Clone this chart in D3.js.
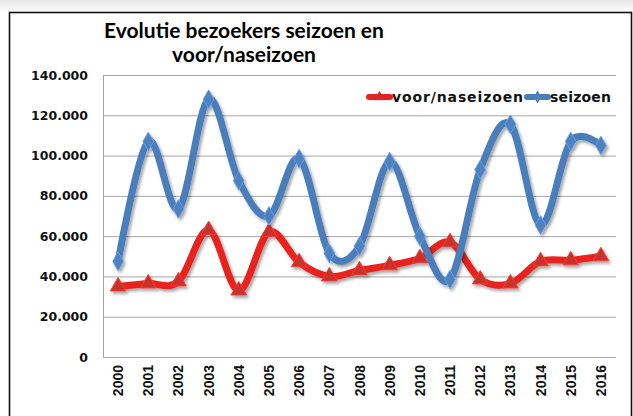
<!DOCTYPE html>
<html>
<head>
<meta charset="utf-8">
<script src="https://cdn.jsdelivr.net/npm/d3@7"></script>
<style>
  html, body { margin: 0; padding: 0; background: #fff; }
  svg { display: block; }
</style>
</head>
<body>
<div id="chart"></div>
<script>
// chart values
var years = ['2000','2001','2002','2003','2004','2005','2006','2007','2008',
             '2009','2010','2011','2012','2013','2014','2015','2016'];
var seizoen = [47500, 107000, 73500, 128000, 87500, 70000, 98500, 51500, 55000,
               97000, 60000, 38500, 93000, 115500, 65500, 107000, 105000];
var voorNaseizoen = [35000, 36500, 37500, 63000, 33000, 62000, 47000, 40000, 43000,
                     45500, 49000, 57000, 38500, 36500, 47500, 48000, 50000];
var yTicks = [0, 20000, 40000, 60000, 80000, 100000, 120000, 140000];
var titleLines = ['Evolutie bezoekers seizoen en', 'voor/naseizoen'];

var width = 633, height = 416;
var plot = {left: 103, right: 616, top: 75, bottom: 357};

var svg = d3.select('#chart').append('svg')
  .attr('width', width)
  .attr('height', height);

var defs = svg.append('defs');
// grey fade above the frame
var grad = defs.append('linearGradient').attr('id', 'topfade')
  .attr('x1', 0).attr('y1', 0).attr('x2', 0).attr('y2', 1);
grad.append('stop').attr('offset', '0%').attr('stop-color', '#e6e6e6');
grad.append('stop').attr('offset', '100%').attr('stop-color', '#fafafa');
// drop shadow under the lines
var shadow = defs.append('filter').attr('id', 'shadow')
  .attr('x', '-10%').attr('y', '-10%').attr('width', '120%').attr('height', '130%');
shadow.append('feDropShadow')
  .attr('dx', 2).attr('dy', 2.5).attr('stdDeviation', 1.6)
  .attr('flood-color', '#000').attr('flood-opacity', 0.35);

svg.append('rect').attr('x', 0).attr('y', 0).attr('width', width).attr('height', 11)
  .attr('fill', 'url(#topfade)');

// chart frame
svg.append('rect')
  .attr('x', 9.5).attr('y', 12.5)
  .attr('width', 622).attr('height', 420)
  .attr('fill', '#fff')
  .attr('stroke', '#111')
  .attr('stroke-width', 1.6);

var x = d3.scaleBand().domain(years).range([plot.left, plot.right]);
var y = d3.scaleLinear().domain([0, 140000]).range([plot.bottom, plot.top]);

// horizontal grid lines
svg.append('g')
  .selectAll('line')
  .data(yTicks)
  .enter().append('line')
    .attr('x1', plot.left).attr('x2', plot.right)
    .attr('y1', function(d) { return y(d) + 0.5; })
    .attr('y2', function(d) { return y(d) + 0.5; })
    .attr('stroke', '#a6a6a6')
    .attr('stroke-width', 1);

// y axis line
svg.append('line')
  .attr('x1', plot.left + 0.5).attr('x2', plot.left + 0.5)
  .attr('y1', plot.top).attr('y2', plot.bottom + 0.5)
  .attr('stroke', '#a6a6a6');

// y tick labels
var fmt = function(d) { return d === 0 ? '0' : d3.format(',')(d).replace(/,/g, '.'); };
svg.append('g')
  .selectAll('text')
  .data(yTicks)
  .enter().append('text')
    .attr('x', 88)
    .attr('y', function(d) { return y(d) + 4.5; })
    .attr('text-anchor', 'end')
    .style('font-family', 'DejaVu Sans, Verdana, sans-serif')
    .style('font-weight', 'bold')
    .style('font-size', '12.5px')
    .attr('fill', '#111')
    .text(fmt);

// x tick labels, rotated
svg.append('g')
  .selectAll('text')
  .data(years)
  .enter().append('text')
    .attr('transform', function(d) {
      return 'translate(' + (x(d) + x.bandwidth() / 2 + 5) + ',365) rotate(-90)';
    })
    .attr('text-anchor', 'end')
    .style('font-family', 'Liberation Sans, Arial, sans-serif')
    .style('font-weight', 'bold')
    .style('font-size', '14px')
    .attr('fill', '#111')
    .text(function(d) { return d; });

// series
var series = [
  {name: 'voor/naseizoen', values: voorNaseizoen, color: '#e8221d', marker: '#c8302b', symbol: d3.symbolTriangle, size: 105},
  {name: 'seizoen', values: seizoen, color: '#4a7ebb', marker: '#4f81bd', symbol: d3.symbolDiamond, size: 100}
];

var line = d3.line()
  .x(function(d, i) { return x(years[i]) + x.bandwidth() / 2; })
  .y(function(d) { return y(d); })
  .curve(d3.curveCardinal.tension(0));

series.forEach(function(s) {
  var g = svg.append('g').attr('filter', 'url(#shadow)');
  g.append('path')
    .datum(s.values)
    .attr('d', line)
    .attr('fill', 'none')
    .attr('stroke', s.color)
    .attr('stroke-width', 7)
    .attr('stroke-linejoin', 'round')
    .attr('stroke-linecap', 'round');
  g.selectAll('path.mark')
    .data(s.values)
    .enter().append('path')
      .attr('class', 'mark')
      .attr('transform', function(d, i) {
        return 'translate(' + (x(years[i]) + x.bandwidth() / 2) + ',' + y(d) + ')';
      })
      .attr('d', d3.symbol().type(s.symbol).size(s.size))
      .attr('fill', s.marker)
      .attr('stroke', d3.color(s.marker).brighter(0.6))
      .attr('stroke-width', 1);
});

// title, two centred lines
svg.append('g')
  .selectAll('text')
  .data(titleLines)
  .enter().append('text')
    .attr('x', 244)
    .attr('y', function(d, i) { return 38 + i * 24; })
    .attr('text-anchor', 'middle')
    .style('font-family', 'Lato, Open Sans, sans-serif')
    .style('font-weight', 'bold')
    .style('font-size', '21px')
    .attr('fill', '#000')
    .text(function(d) { return d; });

// legend
var legend = svg.append('g');
var legendItems = [
  {s: series[0], x: 369, w: 131},
  {s: series[1], x: 527, w: 61}
];
legendItems.forEach(function(item) {
  var lg = legend.append('g').attr('transform', 'translate(' + item.x + ',97)');
  lg.append('line')
    .attr('x1', 0).attr('x2', 21).attr('y1', 0).attr('y2', 0)
    .attr('stroke', item.s.color).attr('stroke-width', 6).attr('stroke-linecap', 'round');
  lg.append('path')
    .attr('transform', 'translate(10.5,0)')
    .attr('d', d3.symbol().type(item.s.symbol).size(item.s.size * 0.5))
    .attr('fill', item.s.marker);
  lg.append('text')
    .attr('x', 23).attr('y', 5)
    .attr('textLength', item.w)
    .attr('lengthAdjust', 'spacing')
    .style('font-family', 'DejaVu Sans, Verdana, sans-serif')
    .style('font-weight', 'bold')
    .style('font-size', '14px')
    .attr('fill', '#111')
    .text(item.s.name);
});
</script>
</body>
</html>
